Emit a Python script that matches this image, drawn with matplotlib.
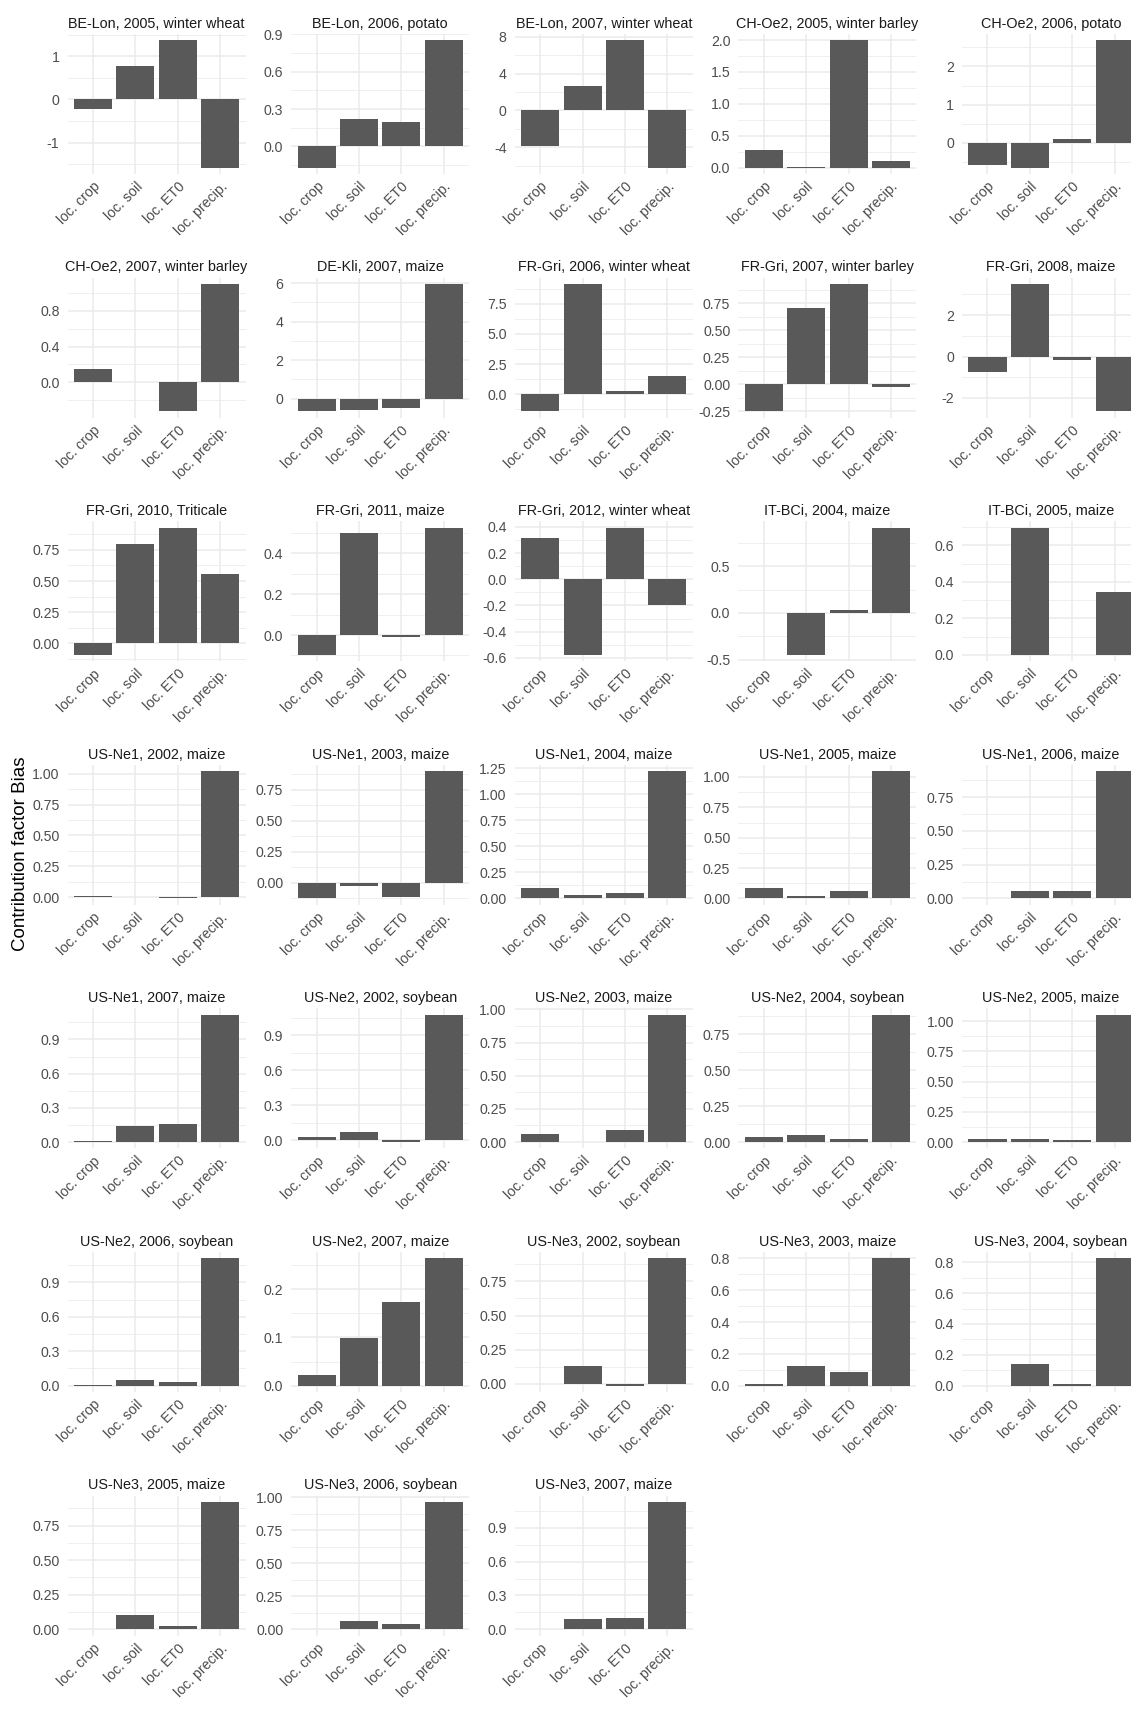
import numpy as np
import matplotlib
matplotlib.use("Agg")
import matplotlib.pyplot as plt

plt.rcParams['font.family'] = ['Liberation Sans', 'DejaVu Sans']

categories = ["loc. crop", "loc. soil", "loc. ET0", "loc. precip."]

titles = [
    "BE-Lon, 2005, winter wheat", "BE-Lon, 2006, potato", "BE-Lon, 2007, winter wheat",
    "CH-Oe2, 2005, winter barley", "CH-Oe2, 2006, potato",
    "CH-Oe2, 2007, winter barley", "DE-Kli, 2007, maize", "FR-Gri, 2006, winter wheat",
    "FR-Gri, 2007, winter barley", "FR-Gri, 2008, maize",
    "FR-Gri, 2010, Triticale", "FR-Gri, 2011, maize", "FR-Gri, 2012, winter wheat",
    "IT-BCi, 2004, maize", "IT-BCi, 2005, maize",
    "US-Ne1, 2002, maize", "US-Ne1, 2003, maize", "US-Ne1, 2004, maize",
    "US-Ne1, 2005, maize", "US-Ne1, 2006, maize",
    "US-Ne1, 2007, maize", "US-Ne2, 2002, soybean", "US-Ne2, 2003, maize",
    "US-Ne2, 2004, soybean", "US-Ne2, 2005, maize",
    "US-Ne2, 2006, soybean", "US-Ne2, 2007, maize", "US-Ne3, 2002, soybean",
    "US-Ne3, 2003, maize", "US-Ne3, 2004, soybean",
    "US-Ne3, 2005, maize", "US-Ne3, 2006, soybean", "US-Ne3, 2007, maize",
]

crop = [-0.22, -0.17, -3.9, 0.27, -0.575,
        0.147, -0.65, -1.42, -0.25, -0.73,
        -0.094, -0.097, 0.317, 0.0, 0.0,
        0.011, -0.125, 0.10, 0.085, 0.005,
        0.012, 0.028, 0.06, 0.037, 0.027,
        0.005, 0.023, 0.0, 0.01, 0.0,
        0.0, 0.0, 0.006]
soil = [0.77, 0.22, 2.6, 0.01, -0.644,
        0.003, -0.57, 9.15, 0.71, 3.5,
        0.80, 0.497, -0.577, -0.447, 0.698,
        0.0, -0.027, 0.035, 0.022, 0.053,
        0.14, 0.068, 0.0, 0.046, 0.027,
        0.053, 0.098, 0.13, 0.121, 0.143,
        0.102, 0.062, 0.094]
et0 = [1.37, 0.198, 7.6, 1.995, 0.11,
       -0.324, -0.46, 0.25, 0.93, -0.175,
       0.93, -0.011, 0.395, 0.035, 0.0,
       -0.009, -0.11, 0.05, 0.058, 0.053,
       0.16, -0.015, 0.088, 0.021, 0.019,
       0.036, 0.173, -0.012, 0.083, 0.009,
       0.024, 0.042, 0.097]
precip = [-1.58, 0.852, -6.2, 0.098, 2.68,
          1.10, 5.96, 1.48, -0.025, -2.64,
          0.553, 0.526, -0.199, 0.912, 0.342,
          1.02, 0.90, 1.22, 1.048, 0.943,
          1.117, 1.075, 0.96, 0.887, 1.052,
          1.11, 0.264, 0.918, 0.80, 0.825,
          0.921, 0.965, 1.13]

yticks = [
    ["-1", "0", "1"], ["0.0", "0.3", "0.6", "0.9"], ["-4", "0", "4", "8"],
    ["0.0", "0.5", "1.0", "1.5", "2.0"], ["0", "1", "2"],
    ["0.0", "0.4", "0.8"], ["0", "2", "4", "6"], ["0.0", "2.5", "5.0", "7.5"],
    ["-0.25", "0.00", "0.25", "0.50", "0.75"], ["-2", "0", "2"],
    ["0.00", "0.25", "0.50", "0.75"], ["0.0", "0.2", "0.4"],
    ["-0.6", "-0.4", "-0.2", "0.0", "0.2", "0.4"], ["-0.5", "0.0", "0.5"],
    ["0.0", "0.2", "0.4", "0.6"],
    ["0.00", "0.25", "0.50", "0.75", "1.00"], ["0.00", "0.25", "0.50", "0.75"],
    ["0.00", "0.25", "0.50", "0.75", "1.00", "1.25"],
    ["0.00", "0.25", "0.50", "0.75", "1.00"], ["0.00", "0.25", "0.50", "0.75"],
    ["0.0", "0.3", "0.6", "0.9"], ["0.0", "0.3", "0.6", "0.9"],
    ["0.00", "0.25", "0.50", "0.75", "1.00"], ["0.00", "0.25", "0.50", "0.75"],
    ["0.00", "0.25", "0.50", "0.75", "1.00"],
    ["0.0", "0.3", "0.6", "0.9"], ["0.0", "0.1", "0.2"],
    ["0.00", "0.25", "0.50", "0.75"], ["0.0", "0.2", "0.4", "0.6", "0.8"],
    ["0.0", "0.2", "0.4", "0.6", "0.8"],
    ["0.00", "0.25", "0.50", "0.75"], ["0.00", "0.25", "0.50", "0.75", "1.00"],
    ["0.0", "0.3", "0.6", "0.9"],
]

W, H = 1131, 1710
fig = plt.figure(figsize=(W / 100, H / 100), dpi=100)
fig.patch.set_facecolor("white")

ncol = 5
pw, ph = 178, 140          # panel size in px
x0, dx = 67.6, 223.6
y0, dy = 34, 243.6
grid_c = "#EBEBEB"
x = np.arange(len(categories))

for i, title in enumerate(titles):
    r, c = divmod(i, ncol)
    left = (x0 + c * dx) / W
    bottom = 1 - (y0 + r * dy + ph) / H
    ax = fig.add_axes([left, bottom, pw / W, ph / H])

    vals = [crop[i], soil[i], et0[i], precip[i]]
    lo, hi = min(min(vals), 0), max(max(vals), 0)
    ext = (hi - lo) * 0.05
    ylim = (lo - ext, hi + ext)

    # major ticks from the picture, minor lines halfway between (ggplot style)
    tk = [float(t) for t in yticks[i]]
    step = tk[1] - tk[0]
    ext_tk = [tk[0] - step] + tk + [tk[-1] + step]
    minor = [(a + b) / 2 for a, b in zip(ext_tk[:-1], ext_tk[1:])]
    minor = [m for m in minor if ylim[0] <= m <= ylim[1]]

    for m in minor:
        ax.axhline(m, color=grid_c, lw=0.55, zorder=0)
    for t in tk:
        ax.axhline(t, color=grid_c, lw=1.1, zorder=0)
    for xx in x:
        ax.axvline(xx, color=grid_c, lw=1.1, zorder=0)

    ax.bar(x, vals, width=0.9, color="#595959", zorder=2)

    ax.set_xlim(-0.6, 3.6)
    ax.set_ylim(*ylim)
    ax.set_yticks(tk)
    ax.set_yticklabels(yticks[i])
    ax.set_xticks(x)
    ax.set_xticklabels(categories, rotation=45, ha="right", rotation_mode="anchor")
    ax.tick_params(length=0, labelsize=10.2, colors="#4D4D4D")
    ax.tick_params(axis="y", pad=5.8)
    ax.tick_params(axis="x", pad=4)
    for s in ax.spines.values():
        s.set_visible(False)
    ax.set_facecolor("white")
    ax.set_title(title, fontsize=10.4, color="#1A1A1A", pad=4.5)

fig.text(21 / W, 1 - 854 / H, "Contribution factor Bias", rotation=90,
         ha="center", va="center", fontsize=13.5, color="black")

fig.savefig("out.png", dpi=100)
